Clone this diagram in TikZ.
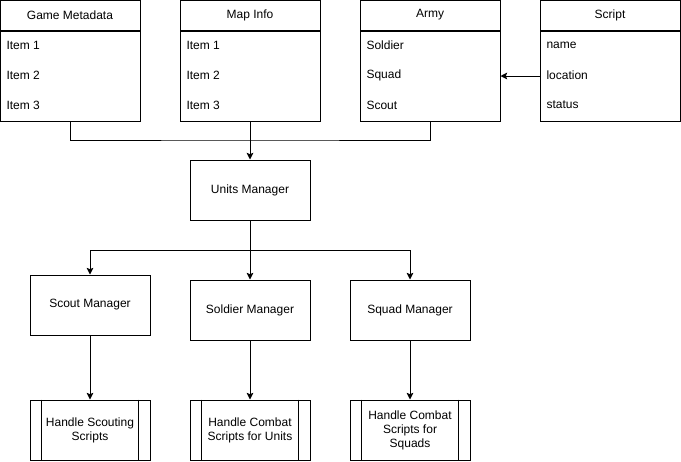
\documentclass[tikz,border=0pt]{standalone}
\usepackage{fontspec}
\setmainfont{Liberation Sans}
\usetikzlibrary{arrows.meta,positioning}
\tikzset{%
	header/.style  = {draw, rectangle, minimum width=105pt, minimum height=22.5pt, inner sep=0pt, text centered},
	body/.style    = {draw, rectangle, minimum width=105pt, minimum height=67.5pt, inner sep=0pt},
	item/.style    = {anchor=west, inner sep=0pt},
	manager/.style = {draw, rectangle, minimum width=90pt, minimum height=45pt, inner sep=0pt, text centered},
	handler/.style = {draw, rectangle, minimum width=90pt, minimum height=45pt, inner sep=0pt, align=center},
	arrow/.style   = {-{Stealth[length=5pt,width=5pt,inset=1pt]}},
}

\begin{document}
\begin{tikzpicture}[x=0.75pt,y=-0.75pt,line width=0.75pt,font=\fontsize{9}{10.5}\selectfont]
	\useasboundingbox (0,0) rectangle (681,461);
	% class boxes
	\node[header] (meta) at (70,15) {Game Metadata};
	\node[body, below=0pt of meta] (metab) {};
	\node[item] (meta1) at (6,45) {Item 1};
	\node[item] (meta2) at (6,75) {Item 2};
	\node[item] (meta3) at (6,105) {Item 3};
	\node[header] (map) at (250,15) {Map Info};
	\node[body, below=0pt of map] (mapb) {};
	\node[item] (map1) at (186,45) {Item 1};
	\node[item] (map2) at (186,75) {Item 2};
	\node[item] (map3) at (186,105) {Item 3};
	\node[header] (army) at (430,15) {Army};
	\node[body, below=0pt of army] (armyb) {};
	\node[item] (army1) at (366,45) {Soldier};
	\node[item] (army2) at (366,75) {Squad};
	\node[item] (army3) at (366,105) {Scout};
	\node[header] (script) at (610,15) {Script};
	\node[body, below=0pt of script] (scriptb) {};
	\node[item] (script1) at (546,45) {name};
	\node[item] (script2) at (546,75) {location};
	\node[item] (script3) at (546,105) {status};
	\draw[arrow] (scriptb.west) -- (armyb.east);
	% managers
	\node[manager] (units) at (250,190) {Units Manager};
	\node[manager] (scout) at (90,305) {Scout Manager};
	\node[manager] (soldier) at (250,310) {Soldier Manager};
	\node[manager] (squad) at (410,310) {Squad Manager};
	\coordinate (join) at (250,140);
	\coordinate (split) at (250,250);
	\draw (metab.south) |- (join) -| (armyb.south);
	\draw[arrow] (mapb.south) -- (units.north);
	\draw (units.south) -- (split);
	\draw[arrow] (split) -| (scout.north);
	\draw[arrow] (split) -| (squad.north);
	\draw[arrow] (split) -- (soldier.north);
	% handlers
	\node[handler] (hscout) at (90,430) {Handle Scouting\\Scripts};
	\node[handler] (hunits) at (250,430) {Handle Combat\\Scripts for Units};
	\node[handler] (hsquad) at (410,430) {Handle Combat\\Scripts for\\Squads};
	\foreach \h in {hscout,hunits,hsquad} {
		\draw ([xshift=9pt]\h.north west) -- ([xshift=9pt]\h.south west);
		\draw ([xshift=-9pt]\h.north east) -- ([xshift=-9pt]\h.south east);
	}
	\draw[arrow] (scout.south) -- (hscout.north);
	\draw[arrow] (soldier.south) -- (hunits.north);
	\draw[arrow] (squad.south) -- (hsquad.north);
\end{tikzpicture}
\end{document}
